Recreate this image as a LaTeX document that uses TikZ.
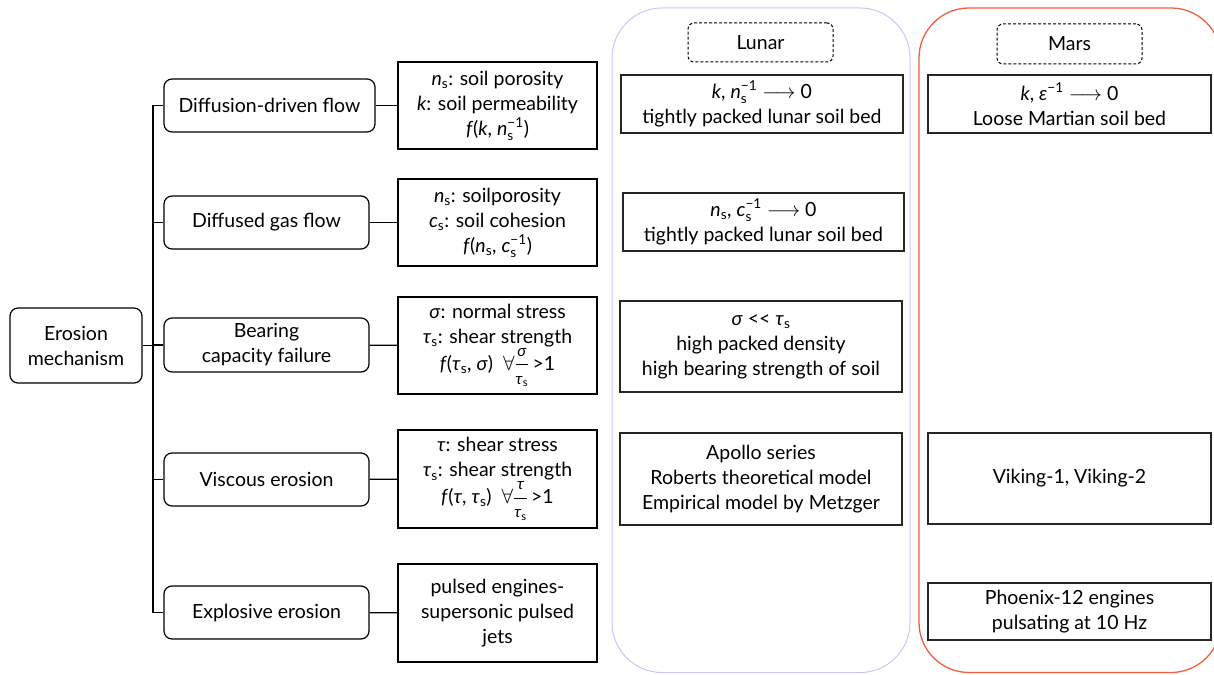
\documentclass[tikz,border=0pt]{standalone}
\usepackage{amsmath}
\usepackage{fontspec}
\setmainfont{Lato}
\newcommand\subsup[3]{$\text{#1}_{\text{#2}}^{\text{#3}}$}
\newcommand\myfrac[2]{$\dfrac{\text{\fontsize{16}{16}\selectfont #1}}{\text{\fontsize{16}{16}\selectfont #2}}$}
\definecolor{lunarc}{HTML}{C8C8F5}
\definecolor{marsc}{HTML}{F0603F}
\begin{document}
\begin{tikzpicture}[x=1pt,y=-1pt,
  every node/.style={font=\fontsize{19.5}{25}\selectfont, align=center, inner sep=0pt},
  mech/.style={draw, line width=1.2pt, rounded corners=8pt, minimum height=53pt},
  param/.style={draw, line width=1.2pt, minimum width=199pt},
  res/.style={draw, line width=1.2pt, draw=black!85},
  tag/.style={draw, line width=1pt, dash pattern=on 3pt off 2pt, rounded corners=6pt, minimum width=145pt, minimum height=39pt},
  conn/.style={line width=1.2pt}]
\useasboundingbox (0,0) rectangle (1214,674);
\clip (0,0) rectangle (1214,674);
% columns
\draw[lunarc, line width=1pt, rounded corners=50pt] (612,8) rectangle (910,672.5);
\draw[marsc, line width=1.3pt, rounded corners=50pt] (919,8) rectangle (1221,672.5);
% tree
\node[mech, minimum width=132pt, minimum height=75pt] (ero) at (76,345.5) {Erosion\\mechanism};
\node[mech, minimum width=211pt] (m1) at (269.5,105.5) {Diffusion-driven flow};
\node[mech, minimum width=205pt] (m2) at (266.5,222.5) {Diffused gas flow};
\node[mech, minimum width=205pt, minimum height=54pt] (m3) at (266.5,345) {Bearing\\capacity failure};
\node[mech, minimum width=205pt] (m4) at (266.5,479.5) {Viscous erosion};
\node[mech, minimum width=205pt] (m5) at (266.5,612.5) {Explosive erosion};
\coordinate (trunk) at (153,0);
\node[param, minimum height=87pt] (p1) at (497.5,105.5) {\textit{n}\textsubscript{s}: soil porosity\\\textit{k}: soil permeability\\\textit{f}(\textit{k}, \subsup{\textit{n}}{s}{−1})};
\node[param, minimum height=87pt] (p2) at (497.5,222.5) {\textit{n}\textsubscript{s}: soilporosity\\\textit{c}\textsubscript{s}: soil cohesion\\\textit{f}(\textit{n}\textsubscript{s}, \subsup{\textit{c}}{s}{−1})};
\node[param, minimum height=97pt] (p3) at (497.5,345.5) {\textit{σ}: normal stress\\\textit{τ}\textsubscript{s}: shear strength\\\textit{f}(\textit{τ}\textsubscript{s}, \textit{σ})\ \ $\forall$\myfrac{\textit{σ}}{\textit{τ}\textsubscript{s}}\,>1};
\node[param, minimum height=98pt] (p4) at (497.5,479) {\textit{τ}: shear stress\\\textit{τ}\textsubscript{s}: shear strength\\\textit{f}(\textit{τ}, \textit{τ}\textsubscript{s})\ \ $\forall$\myfrac{\textit{τ}}{\textit{τ}\textsubscript{s}}\,>1};
\node[param, minimum height=98pt] (p5) at (497.5,613) {pulsed engines-\\supersonic pulsed\\jets};
\draw[conn] (ero.east) -- (ero.east -| trunk);
\draw[conn] (m1.west) -- (m1.west -| trunk) -- (m5.west -| trunk) -- (m5.west);
\draw[conn] (m2.west) -- (m2.west -| trunk);
\draw[conn] (m3.west) -- (m3.west -| trunk);
\draw[conn] (m4.west) -- (m4.west -| trunk);
\draw[conn] (m1) -- (p1);
\draw[conn] (m2) -- (p2);
\draw[conn] (m3) -- (p3);
\draw[conn] (m4) -- (p4);
\draw[conn] (m5) -- (p5);
% lunar
\node[tag] (lt) at (760.5,42.5) {Lunar};
\node[res, minimum width=282pt, minimum height=58pt] (l1) at (762,104) {\textit{k}, \subsup{\textit{n}}{s}{−1} $\longrightarrow$ 0\\tightly packed lunar soil bed};
\node[res, minimum width=281pt, minimum height=58pt] (l2) at (763.5,222) {\textit{n}\textsubscript{s}, \subsup{\textit{c}}{s}{−1} $\longrightarrow$ 0\\tightly packed lunar soil bed};
\node[res, minimum width=282pt, minimum height=91pt] (l3) at (761,346.5) {\textit{σ} {<}{<} \textit{τ}\textsubscript{s}\\high packed density\\high bearing strength of soil};
\node[res, minimum width=282pt, minimum height=92pt] (l4) at (761,479) {Apollo series\\Roberts theoretical model\\Empirical model by Metzger};
% mars
\node[tag, minimum height=40pt] (mt) at (1069.5,44) {Mars};
\node[res, minimum width=283pt, minimum height=58pt] (r1) at (1069.5,104) {\textit{k}, \textit{ε}\textsuperscript{−1} $\longrightarrow$ 0\\Loose Martian soil bed};
\node[res, minimum width=283pt, minimum height=91pt] (r2) at (1069.5,478.5) {Viking-1, Viking-2};
\node[res, minimum width=283pt, minimum height=57pt] (r3) at (1069.5,611.5) {Phoenix-12 engines\\pulsating at 10 Hz};
\end{tikzpicture}
\end{document}
